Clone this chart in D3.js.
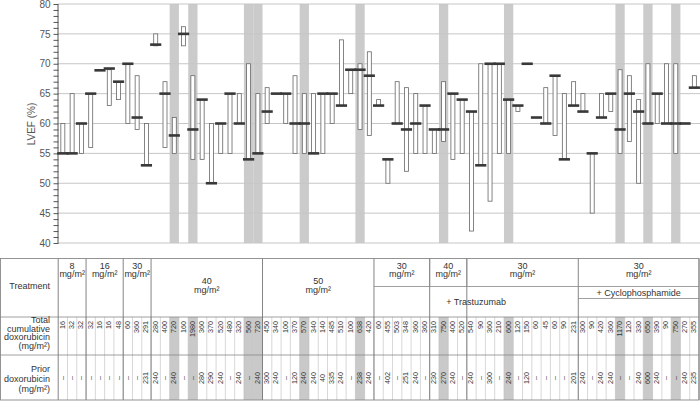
<!DOCTYPE html>
<html><head><meta charset="utf-8">
<script src="https://cdn.jsdelivr.net/npm/d3@7"></script>
<style>
body{margin:0;background:#fff}
svg{display:block;font-family:"Liberation Sans",Arial,Helvetica,sans-serif}
</style>
</head><body>
<svg id="c" width="700" height="404"></svg>
<script>
// ---------- DATA ----------
// Baseline LVEF (%) per patient (thick dash)
const baseline = [55,55,60,65,68.9,69.2,67,70,61,53,
  73.2,65,58,75,59,64,50,60,65,60,54,55,
  62,65,65,60,60,55,65,65,63,69,69,68,
  63,54,60,59,60,63,
  59,59,65,64,
  62,53,70,70,64,63,70,61,60,68,54,63,
  62,55,61,65,59,65,62,60,65,60,60,60,66];
// LVEF range during treatment (open bar); null = no bar
const lvefLow = [55,55,55,56,null,63,64,60,59,53,
  73,56,55,73,54,54,50,55,55,60,54,55,
  60,null,60,55,55,55,55,60,63,65,59,58,
  63,50,60,52,55,55,
  55,57,54,55,
  42,53,47,55,55,62,null,null,60,58,54,63,
  62,45,61,62,55,57,50,60,60,60,55,null,66];
const lvefHigh = [60,65,60,65,null,69,67,70,68,60,
  75,67,61,76.2,68,64,60,60,65,65,70,65,
  66,null,65,68,65,65,65,65,74,69,70,72,
  64,54,67,66,65,63,
  59,67,65,64,
  62,70,70,70,64,63,null,null,66,68,65,67,
  65,55,65,65,69,68,64,70,65,70,70,null,68];
// Highlighted (grey) patients
const highlighted = [12,14,20,21,26,32,41,48,60,63,66];
// Table rows
const totalDox = ["16","32","32","32","16","16","48","60","360","291",
  "280","400","720","160","1980","360","370","520","480","320","560","720",
  "450","340","100","370","570","340","140","485","510","100","638","420",
  "60","455","503","348","360","360",
  "310","750","400","520",
  "540","90","360","210","600","120","150","60","45","60","90","231",
  "300","90","420","360","1170","120","330","650","390","90","750","270","355"];
const priorDox = ["–","–","–","–","–","–","–","–","–","231",
  "240","–","240","–","–","280","290","240","–","240","–","240",
  "300","240","–","120","240","240","40","335","240","–","238","240",
  "–","402","–","251","240","–",
  "230","270","240","–",
  "240","–","300","–","240","–","120","–","–","–","–","201",
  "240","–","240","240","–","–","240","600","240","–","–","240","235"];
// Treatment groups
const groupDose = ["8","16","30","40","50","30","40","30","30"];
const groupSize = [3,4,3,12,12,6,4,12,13];
const yTicks = [40,45,50,55,60,65,70,75,80];

// ---------- DRAW ----------
const svg = d3.select("#c");
const W = 700;
const plotTop = 4, plotBottom = 243, plotLeft = 58.2, plotRight = 699;
const n = baseline.length;
const x = d3.scaleBand().domain(d3.range(n)).range([plotLeft, plotRight]);
const bw = x.bandwidth();
const cx = i => x(i) + bw / 2;
const y = d3.scaleLinear().domain([40, 80]).range([plotBottom, plotTop]);
const textCol = "#333";

// grey bands
svg.append("g").selectAll("rect").data(highlighted).join("rect")
  .attr("x", d => x(d)).attr("width", bw)
  .attr("y", plotTop).attr("height", plotBottom - plotTop)
  .attr("fill", "#cbcbcb");

// gridlines
svg.append("g").selectAll("line").data(yTicks).join("line")
  .attr("x1", plotLeft).attr("x2", W)
  .attr("y1", d => y(d)).attr("y2", d => y(d))
  .attr("stroke", "#c6c6c6").attr("stroke-width", 1);

// y axis
const ax = svg.append("g").attr("transform", `translate(${plotLeft - 0.7},0)`)
  .call(d3.axisLeft(y).tickValues(d3.range(40, 81)).tickSizeInner(4).tickSizeOuter(0)
    .tickPadding(3).tickFormat(d => d % 5 === 0 ? d : ""));
ax.select(".domain").attr("stroke", "#555");
ax.selectAll(".tick line").attr("stroke", "#555").attr("x2", -4).attr("x1", 1);
ax.selectAll(".tick text").attr("font-size", 10).attr("fill", "#555")
  .attr("font-family", '"Liberation Sans",Arial,sans-serif');

svg.append("text").attr("transform", "translate(31,124) rotate(-90)")
  .attr("text-anchor", "middle").attr("dominant-baseline", "central")
  .attr("font-size", 10).attr("fill", "#555").text("LVEF (%)");

// range bars
const idx = d3.range(n);
svg.append("g").selectAll("rect").data(idx.filter(i => lvefLow[i] !== null)).join("rect")
  .attr("x", i => cx(i) - 2).attr("width", 4)
  .attr("y", i => y(lvefHigh[i])).attr("height", i => y(lvefLow[i]) - y(lvefHigh[i]))
  .attr("fill", "#fff").attr("stroke", "#666").attr("stroke-width", 0.8);

// baseline dashes
svg.append("g").selectAll("rect").data(idx).join("rect")
  .attr("x", i => cx(i) - 5.6).attr("width", 11.2)
  .attr("y", i => y(baseline[i]) - 1.3).attr("height", 2.6)
  .attr("fill", "#383838");

// ---------- TABLE ----------
const tTop = 258.5, tTreat = 317, tMid = 355, tBottom = 400;
const t = svg.append("g");
// grey cells
t.selectAll("rect.g").data(highlighted).join("rect")
  .attr("x", d => x(d)).attr("width", bw)
  .attr("y", tTreat).attr("height", tBottom - tTreat).attr("fill", "#c9c9c9");
// thin column lines
t.selectAll("line.col").data(d3.range(1, n)).join("line")
  .attr("x1", i => x(i)).attr("x2", i => x(i))
  .attr("y1", tTreat).attr("y2", tBottom)
  .attr("stroke", "#bdbdbd").attr("stroke-width", 0.6);
// horizontal lines
[tTreat, tMid].forEach(v => t.append("line").attr("x1", 0).attr("x2", plotRight)
  .attr("y1", v).attr("y2", v).attr("stroke", "#888").attr("stroke-width", 0.8));
// group starts
const starts = [];
groupSize.reduce((s, k) => { starts.push(s); return s + k; }, 0);
[...starts, n].forEach((s, k) => {
  const xv = s === n ? plotRight : x(s);
  t.append("line").attr("x1", xv).attr("x2", xv).attr("y1", tTop).attr("y2", tBottom)
    .attr("stroke", "#777").attr("stroke-width", 0.9);
});
// outer border
t.append("rect").attr("x", 0.5).attr("y", tTop).attr("width", plotRight - 0.5)
  .attr("height", tBottom - tTop).attr("fill", "none").attr("stroke", "#888").attr("stroke-width", 0.9);
// trastuzumab sub-cells
const hLine = (x1, x2, yy) => t.append("line").attr("x1", x1).attr("x2", x2).attr("y1", yy).attr("y2", yy)
  .attr("stroke", "#888").attr("stroke-width", 0.8);
hLine(x(starts[5]), x(starts[8]), 286.5);
hLine(x(starts[8]), plotRight, 286.5);
hLine(x(starts[8]), plotRight, 298.5);
[starts[6], starts[7]].forEach(s => t.append("line").attr("x1", x(s)).attr("x2", x(s))
  .attr("y1", tTop).attr("y2", 286.5).attr("stroke", "#888").attr("stroke-width", 0.8));

// row labels
const label = (lines, yc, step) => {
  const tx = t.append("text").attr("text-anchor", "end").attr("font-size", 9).attr("fill", textCol);
  lines.forEach((l, k) => tx.append("tspan").attr("x", 50)
    .attr("y", yc + (k - (lines.length - 1) / 2) * step).attr("dominant-baseline", "central").text(l));
};
label(["Treatment"], 286, 9);
label(["Total", "cumulative", "doxorubicin", "(mg/m²)"], 333, 8.6);
label(["Prior", "doxorubicin", "(mg/m²)"], 378.5, 10);

// group dose labels
groupDose.forEach((d, k) => {
  const s = starts[k], e = s + groupSize[k];
  const xm = (x(s) + (e === n ? plotRight : x(e))) / 2;
  const y0 = (k === 3 || k === 4) ? 281 : 265.5;
  [d, "mg/m²"].forEach((l, j) => t.append("text").attr("x", xm).attr("y", y0 + j * 8.5)
    .attr("text-anchor", "middle").attr("dominant-baseline", "central")
    .attr("font-size", 9).attr("fill", textCol).text(l));
});
t.append("text").attr("x", (x(starts[5]) + x(starts[8])) / 2).attr("y", 302)
  .attr("text-anchor", "middle").attr("dominant-baseline", "central")
  .attr("font-size", 9).attr("fill", textCol).text("+ Trastuzumab");
t.append("text").attr("x", (x(starts[8]) + plotRight) / 2).attr("y", 292.5)
  .attr("text-anchor", "middle").attr("dominant-baseline", "central")
  .attr("font-size", 9).attr("fill", textCol).text("+ Cyclophosphamide");

// rotated numbers
t.selectAll("text.tot").data(idx).join("text")
  .attr("transform", i => `translate(${cx(i) - 0.5},${tTreat + 4}) rotate(-90)`)
  .attr("text-anchor", "end").attr("dominant-baseline", "central")
  .attr("font-size", 7.2).attr("fill", textCol).text(i => totalDox[i]);
t.selectAll("text.pri").data(idx).join("text")
  .attr("transform", i => `translate(${cx(i) - 0.5},378) rotate(-90)`)
  .attr("text-anchor", "middle").attr("dominant-baseline", "central")
  .attr("font-size", 7.2).attr("fill", textCol).text(i => priorDox[i]);
</script>
</body></html>
